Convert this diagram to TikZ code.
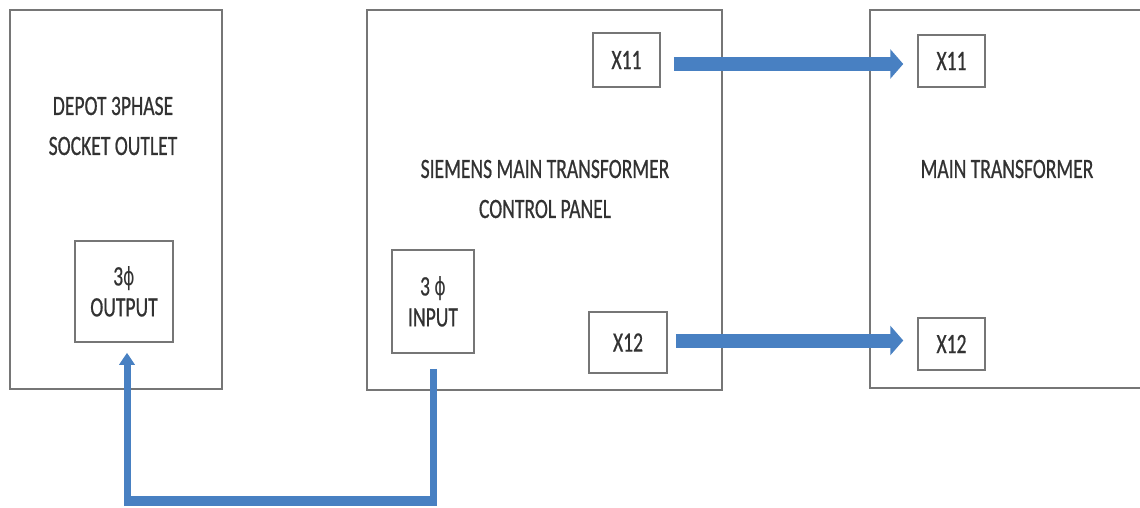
\documentclass[tikz,border=0pt]{standalone}
\usepackage{fontspec}
\setmainfont{Carlito}[FakeStretch=0.7,FakeBold=0.6]
\newfontfamily\phifont{DejaVu Sans}[FakeStretch=0.7]
\usetikzlibrary{arrows.meta,calc}
\definecolor{boxgray}{RGB}{118,118,118}
\definecolor{txtgray}{RGB}{50,50,50}
\definecolor{arrowblue}{RGB}{72,128,194}
\newcommand{\ph}{{\phifont\fontsize{25}{30}\selectfont ϕ}}
\tikzset{
  bigbox/.style={draw=boxgray, line width=1.5pt, rectangle, inner sep=0pt},
  portbox/.style={draw=boxgray, line width=1.5pt, rectangle, inner sep=0pt,
     text=txtgray, font=\fontsize{28}{35}\selectfont, align=center},
  lbl/.style={text=txtgray, font=\fontsize{28}{40}\selectfont, align=center, inner sep=0pt},
  harrow/.style={draw=arrowblue, line width=14pt, -{Triangle[length=13pt,width=29pt]}},
  varrow/.style={draw=arrowblue, line width=7pt, -{Triangle[length=12pt,width=15pt]}},
}
\begin{document}
\begin{tikzpicture}[x=1pt,y=-1pt]
\useasboundingbox (0,0) rectangle (1140,508);
\clip (0,0) rectangle (1140,508);
% big boxes
\node[bigbox, minimum width=212pt, minimum height=379pt] (depot) at (116,199.5) {};
\node[bigbox, minimum width=355pt, minimum height=380pt] (panel) at (544.5,200) {};
\node[bigbox, minimum width=290pt, minimum height=378pt] (mtr) at (1015,199) {};
% labels
\node[lbl] (depotlbl) at (113,126) {DEPOT 3PHASE\\SOCKET OUTLET};
\node[lbl] (panellbl) at (545,189) {SIEMENS MAIN TRANSFORMER\\CONTROL PANEL};
\node[lbl] (mtrlbl) at (1007,169) {MAIN TRANSFORMER};
% port boxes
\node[portbox, minimum width=98pt, minimum height=101pt] (outp) at (124,291.5) {3\ph\\[-4pt]OUTPUT};
\node[portbox, minimum width=82pt, minimum height=103pt] (inp) at (433,301.5) {3 \ph\\[-4pt]INPUT};
\node[portbox, minimum width=67pt, minimum height=54pt] (x11m) at (626.5,60) {X11};
\node[portbox, minimum width=78pt, minimum height=61pt] (x12m) at (628,342.5) {X12};
\node[portbox, minimum width=67pt, minimum height=52pt] (x11r) at (951.5,61) {X11};
\node[portbox, minimum width=67pt, minimum height=52pt] (x12r) at (951.5,344) {X12};
% connectors
\draw[harrow] ($(x11m.east)+(13,4)$) -- ($(x11m.east -| x11r.west)+(-14,4)$);
\draw[harrow] ($(x12m.east)+(8,-2)$) -- ($(x12m.east -| x12r.west)+(-14,-2)$);
\coordinate (c1) at ($(inp.south)+(0,147)$);
\coordinate (c2) at ($(outp.south)+(3,158)$);
\draw[draw=arrowblue, line width=10pt] ($(c1)+(3.5,0)$) -- ($(c2)+(-3.5,0)$);
\draw[varrow] ($(inp.south)+(0,15)$) |- (c2) -- ($(outp.south)+(3,10)$);
\end{tikzpicture}
\end{document}
